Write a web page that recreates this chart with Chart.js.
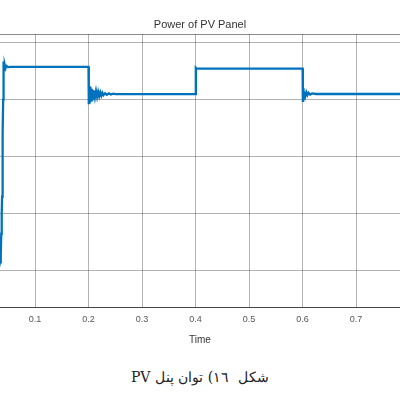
<!DOCTYPE html>
<html>
<head>
<meta charset="utf-8">
<script src="https://cdn.jsdelivr.net/npm/chart.js@4"></script>
<style>
  html, body { margin: 0; padding: 0; background: #fff; overflow: hidden; }
  #wrap { position: relative; width: 400px; height: 400px; }
  #chartBox { position: absolute; left: 0; top: 0; width: 400px; height: 350px; }
  #caption { position: absolute; left: 0; width: 400px; top: 369px; text-align: center;
    font-family: "DejaVu Serif", "Liberation Serif", serif; font-size: 14px; color: #222; white-space: pre; }
</style>
</head>
<body>
<div id="wrap">
  <div id="chartBox"><canvas id="c"></canvas></div>
  <div id="caption" dir="rtl">شکل  ١٦) توان پنل PV</div>
</div>
<script>
// ---- data ----
const chartTitle = "Power of PV Panel";
const xAxisTitle = "Time";
const xTicks = [0.1, 0.2, 0.3, 0.4, 0.5, 0.6, 0.7];
const yGridValues = [100, 200, 300, 400, 500];
const xRange = [0.0346, 0.782];
const yRange = [36.3, 514.8];

const timeValues = [
  0.030, 0.0346, 0.036, 0.037, 0.0378, 0.0385, 0.039, 0.0395, 0.040, 0.0405, 0.041, 0.0415,
  0.0425, 0.0435, 0.045, 0.047, 0.050, 0.055, 0.200,
  0.2005, 0.201, 0.2015, 0.202, 0.2025, 0.203, 0.2035, 0.204, 0.205, 0.206, 0.207, 0.208,
  0.209, 0.210, 0.212, 0.214, 0.216, 0.218, 0.220, 0.222, 0.224, 0.226, 0.228, 0.231,
  0.234, 0.238, 0.242, 0.246, 0.250, 0.400, 0.4005, 0.402, 0.600,
  0.6005, 0.601, 0.6015, 0.602, 0.603, 0.604, 0.605, 0.607, 0.609, 0.611, 0.614, 0.618,
  0.625, 0.800
];
const powerValues = [
  95, 115, 130, 165, 200, 230, 260, 300, 340, 400, 440, 467,
  452, 461, 455, 459, 457, 457.5, 457.5,
  392, 424, 393, 423, 395, 422, 396, 420, 399, 419, 401, 417,
  403, 416, 404, 415, 405, 414, 406, 413, 407, 412, 408, 411.5,
  408.5, 411, 409, 410.5, 409.8, 409.8, 456, 454.6, 454.6,
  396, 420, 400, 416, 404, 414, 406, 413, 408, 412, 409, 411,
  410, 410
];

const points = timeValues.map((t, i) => ({ x: t, y: powerValues[i] }));

new Chart(document.getElementById('c'), {
  type: 'line',
  data: {
    datasets: [{
      data: points,
      borderColor: '#0072BD',
      borderWidth: 2.3,
      pointRadius: 0,
      tension: 0,
      fill: false
    }]
  },
  options: {
    responsive: true,
    maintainAspectRatio: false,
    animation: false,
    events: [],
    layout: { padding: { left: 0, right: 0, top: 0, bottom: 0 } },
    plugins: {
      legend: { display: false },
      tooltip: { enabled: false },
      title: {
        display: true,
        text: chartTitle,
        color: '#333',
        font: { family: 'Liberation Sans, Arial, sans-serif', size: 11, weight: 'normal' },
        padding: { top: 18, bottom: 3 }
      }
    },
    scales: {
      x: {
        type: 'linear',
        min: xRange[0],
        max: xRange[1],
        afterBuildTicks: (scale) => { scale.ticks = xTicks.map(v => ({ value: v })); },
        ticks: {
          color: '#555',
          font: { family: 'Liberation Sans, Arial, sans-serif', size: 9 },
          padding: 7,
          maxRotation: 0,
          autoSkip: false,
          callback: (v) => String(v)
        },
        grid: { color: 'rgba(0,0,0,0.3)', drawTicks: false, lineWidth: 1 },
        border: { display: true, color: '#444', width: 1 },
        title: {
          display: true,
          text: xAxisTitle,
          color: '#333',
          font: { family: 'Liberation Sans, Arial, sans-serif', size: 10 },
          padding: { top: 2, bottom: 4 }
        }
      },
      y: {
        type: 'linear',
        min: yRange[0],
        max: yRange[1],
        afterBuildTicks: (scale) => {
          scale.ticks = yGridValues.concat([yRange[1]]).map(v => ({ value: v }));
        },
        afterFit: (scale) => { scale.width = 0; },
        ticks: { display: false },
        grid: {
          drawTicks: false,
          lineWidth: 1,
          color: (ctx) => (ctx.tick && ctx.tick.value === yRange[1]) ? 'rgba(0,0,0,0.45)' : 'rgba(0,0,0,0.3)'
        },
        border: { display: false }
      }
    }
  }
});
</script>
</body>
</html>
